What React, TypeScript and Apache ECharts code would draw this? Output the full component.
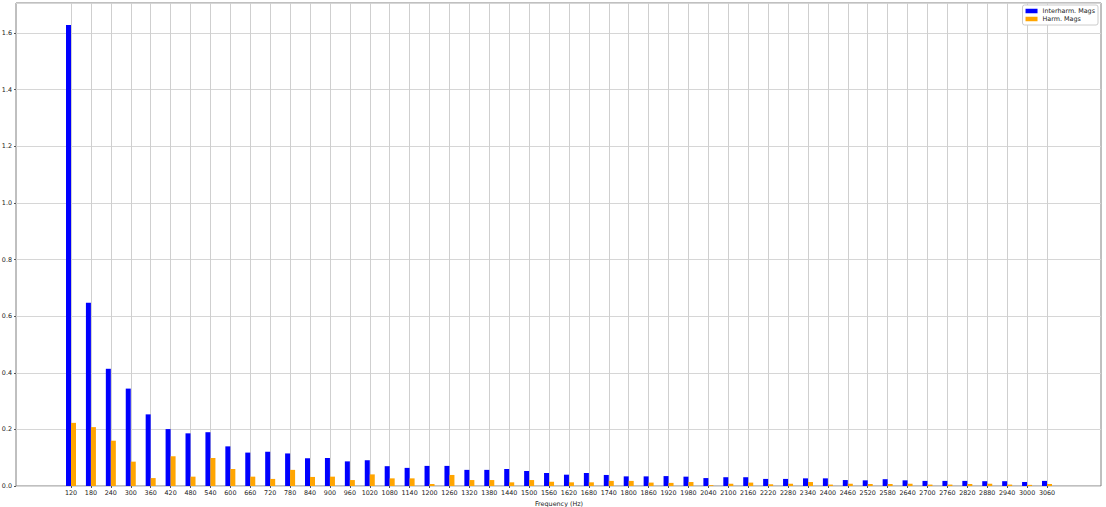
import { useEffect, useRef } from "react";
import * as echarts from "echarts";

// Frequencies (Hz) on the x axis
const frequencies: string[] = [
  "120", "180", "240", "300", "360", "420", "480", "540", "600", "660",
  "720", "780", "840", "900", "960", "1020", "1080", "1140", "1200", "1260",
  "1320", "1380", "1440", "1500", "1560", "1620", "1680", "1740", "1800", "1860",
  "1920", "1980", "2040", "2100", "2160", "2220", "2280", "2340", "2400", "2460",
  "2520", "2580", "2640", "2700", "2760", "2820", "2880", "2940", "3000", "3060",
];

const interharmMags: number[] = [
  1.628, 0.647, 0.414, 0.344, 0.253, 0.201, 0.186, 0.19, 0.14, 0.118,
  0.121, 0.115, 0.098, 0.099, 0.087, 0.091, 0.07, 0.064, 0.071, 0.071,
  0.057, 0.057, 0.06, 0.053, 0.046, 0.04, 0.046, 0.039, 0.034, 0.034,
  0.035, 0.033, 0.028, 0.031, 0.031, 0.025, 0.025, 0.027, 0.027, 0.021,
  0.02, 0.024, 0.02, 0.018, 0.018, 0.018, 0.017, 0.017, 0.014, 0.018,
];

const harmMags: number[] = [
  0.223, 0.208, 0.16, 0.086, 0.028, 0.105, 0.033, 0.099, 0.06, 0.033,
  0.025, 0.057, 0.032, 0.033, 0.021, 0.041, 0.027, 0.027, 0.007, 0.039,
  0.021, 0.021, 0.013, 0.021, 0.015, 0.013, 0.013, 0.018, 0.018, 0.012,
  0.011, 0.014, 0.003, 0.008, 0.012, 0.006, 0.008, 0.014, 0.005, 0.008,
  0.007, 0.007, 0.008, 0.005, 0.005, 0.007, 0.008, 0.005, 0.004, 0.007,
];

const Y_MAX = 1.706;
const FONT = "DejaVu Sans";

export default function App() {
  const chartRef = useRef<HTMLDivElement>(null);

  useEffect(() => {
    if (!chartRef.current) return;
    const chart = echarts.init(chartRef.current, null, { renderer: "svg" });

    chart.setOption({
      animation: false,
      backgroundColor: "#ffffff",
      textStyle: { fontFamily: FONT },
      legend: {
        orient: "vertical",
        right: 8,
        top: 5,
        data: ["Interharm. Mags", "Harm. Mags"],
        icon: "rect",
        itemWidth: 12,
        itemHeight: 4.5,
        itemGap: 2,
        padding: [3, 3, 3, 3],
        backgroundColor: "#ffffff",
        borderColor: "#cccccc",
        borderWidth: 1,
        borderRadius: 2,
        textStyle: { fontFamily: FONT, fontSize: 6.4, color: "#222" },
      },
      grid: [
        // outer frame with the horizontal grid lines
        {
          left: 16, right: 5, top: 3, bottom: 21,
          outerBoundsMode: "none",
          show: true, borderColor: "#808080", borderWidth: 1,
          backgroundColor: "transparent",
        },
        // inner grid aligned to the category ticks
        { left: 71, right: 59, top: 3, bottom: 21, outerBoundsMode: "none" },
      ],
      xAxis: [
        { gridIndex: 0, type: "value", min: 0, max: 1, show: false },
        {
          gridIndex: 1,
          type: "category",
          data: frequencies,
          boundaryGap: false,
          name: "Frequency (Hz)",
          nameLocation: "middle",
          nameGap: 12,
          nameTextStyle: { fontFamily: FONT, fontSize: 6.4, color: "#222" },
          axisLine: { show: false },
          axisTick: { show: true, length: 2, lineStyle: { color: "#555" } },
          axisLabel: {
            interval: 0,
            margin: 4,
            fontFamily: FONT,
            fontSize: 6.4,
            color: "#222",
          },
          splitLine: { show: true, lineStyle: { color: "#cfcfcf", width: 1 } },
        },
      ],
      yAxis: [
        {
          gridIndex: 0,
          type: "value",
          min: 0,
          max: Y_MAX,
          interval: 0.2,
          axisLine: { show: false },
          axisTick: { show: true, length: 2, lineStyle: { color: "#555" } },
          axisLabel: {
            showMaxLabel: false,
            margin: 4,
            fontFamily: FONT,
            fontSize: 6.4,
            color: "#222",
            formatter: (v: number) => v.toFixed(1),
          },
          splitLine: { show: true, lineStyle: { color: "#d6d6d6", width: 1 } },
        },
        { gridIndex: 1, type: "value", min: 0, max: Y_MAX, show: false },
      ],
      series: [
        {
          name: "Interharm. Mags",
          type: "bar",
          xAxisIndex: 1,
          yAxisIndex: 1,
          data: interharmMags,
          barWidth: 5,
          barGap: "0%",
          clip: false,
          itemStyle: { color: "#0000ff" },
        },
        {
          name: "Harm. Mags",
          type: "bar",
          xAxisIndex: 1,
          yAxisIndex: 1,
          data: harmMags,
          barWidth: 5,
          barGap: "0%",
          clip: false,
          itemStyle: { color: "#ffa500" },
        },
      ],
    });

    return () => {
      chart.dispose();
    };
  }, []);

  return (
    <div
      ref={chartRef}
      style={{ position: "fixed", left: 0, top: 0, width: 1106, height: 507 }}
    />
  );
}
